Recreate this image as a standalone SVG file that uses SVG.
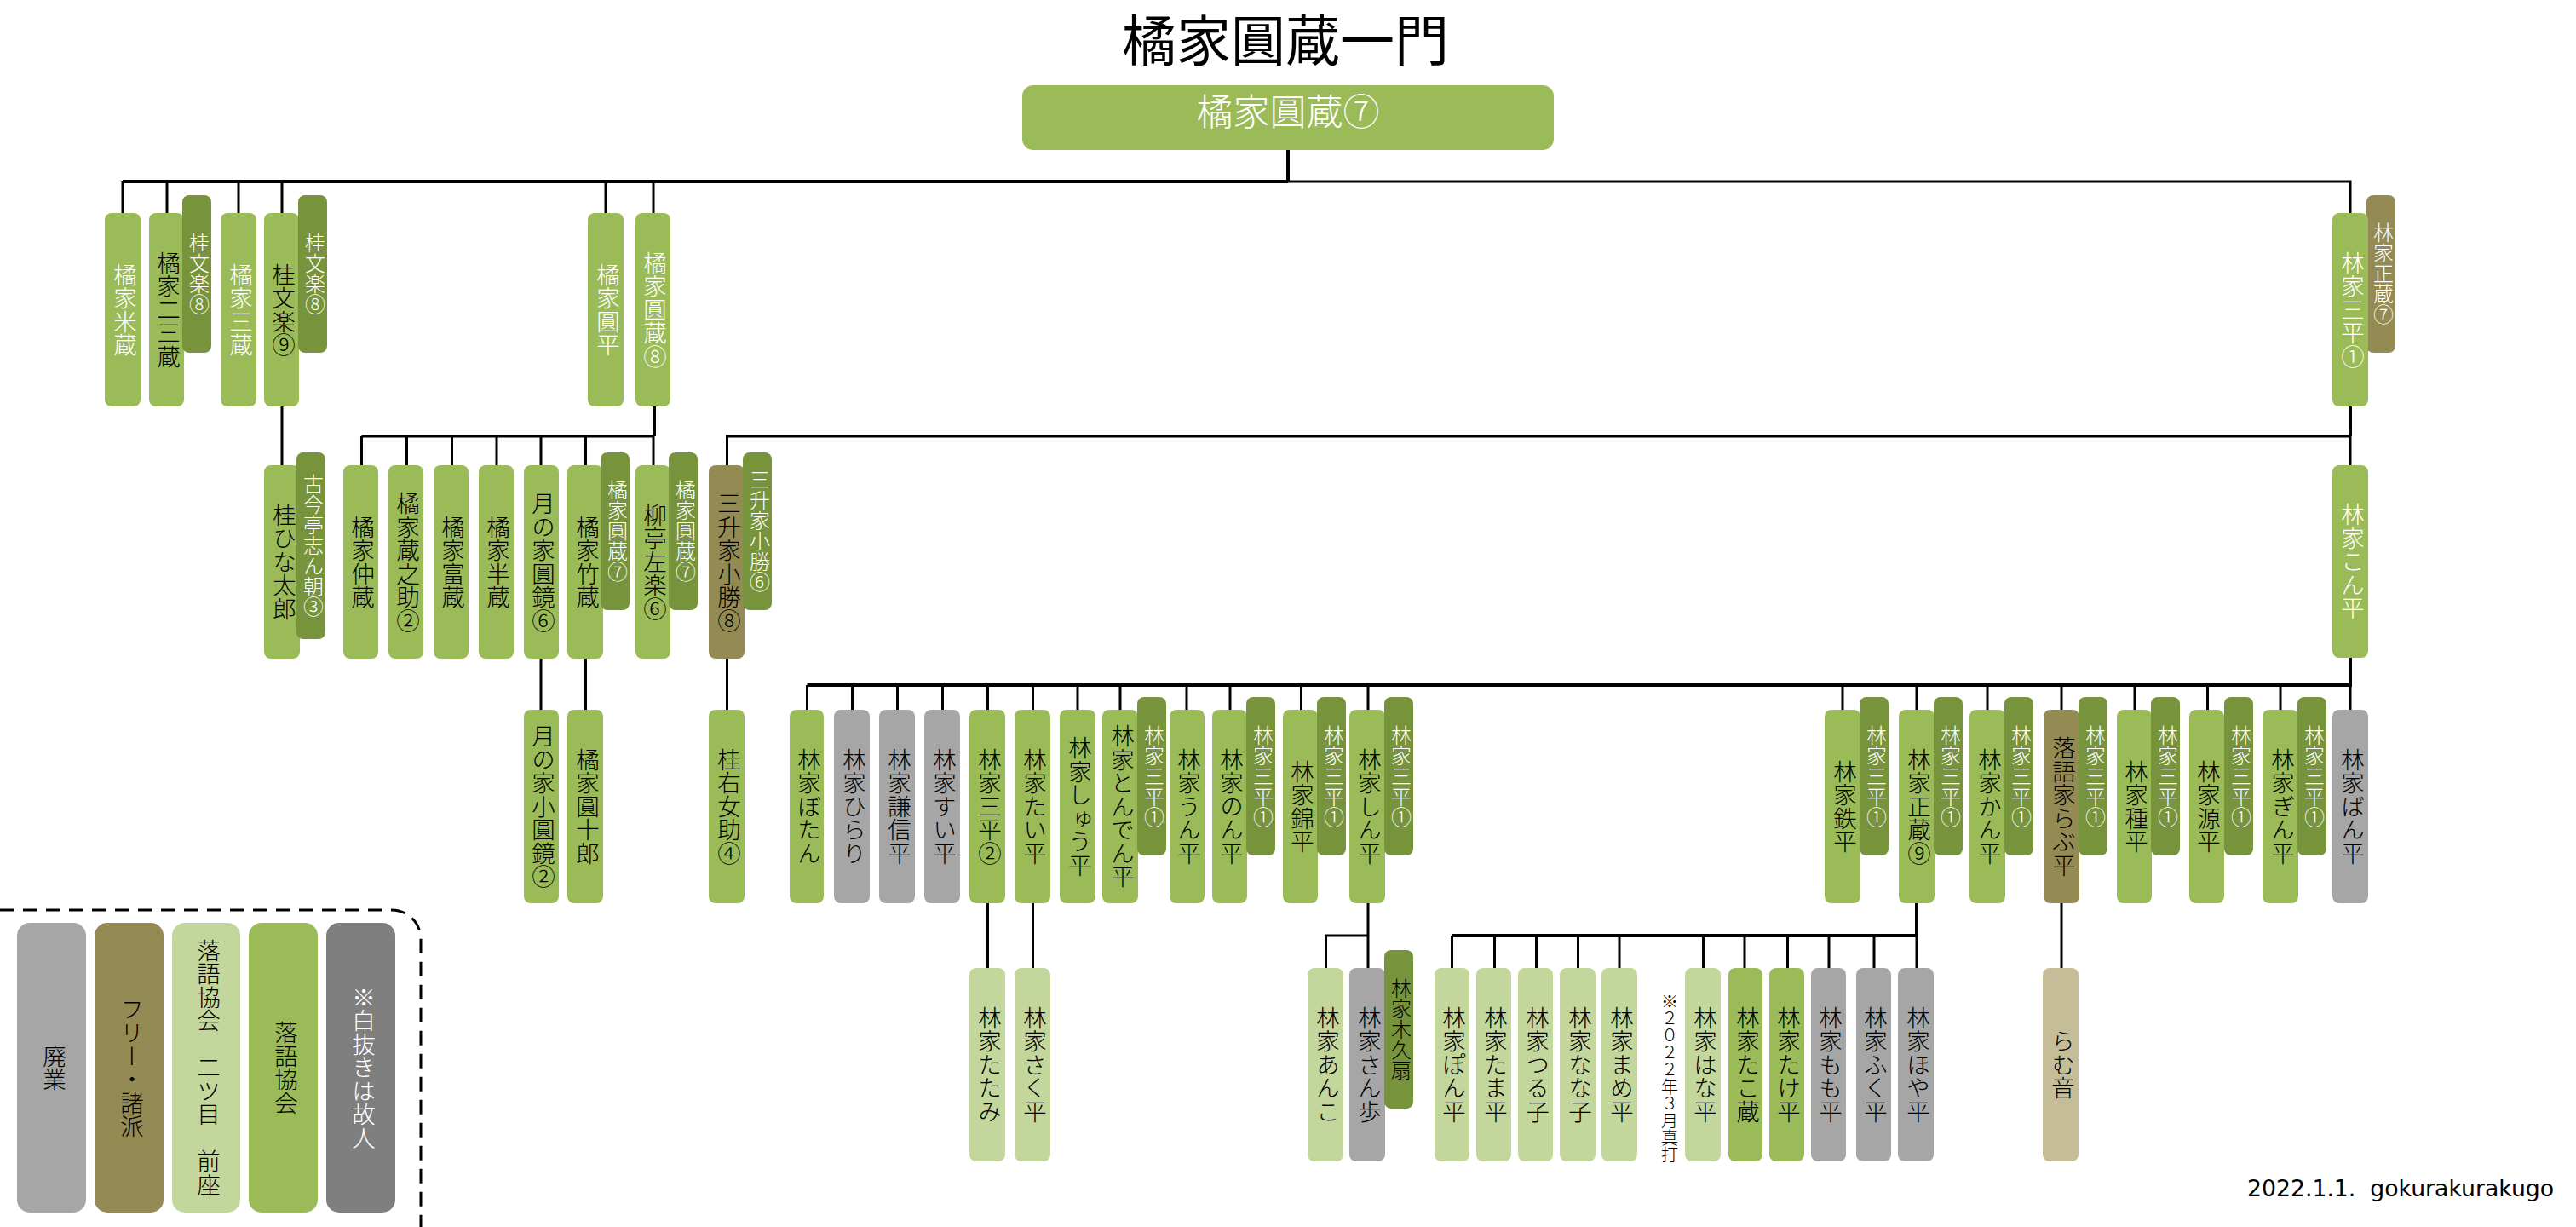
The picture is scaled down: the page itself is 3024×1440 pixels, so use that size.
<svg xmlns="http://www.w3.org/2000/svg" width="3024" height="1440" viewBox="0 0 3024 1440">
<style>
text{font-family:"Noto Sans CJK JP","Noto Sans",sans-serif;fill:#000;font-weight:300}
.v{writing-mode:vertical-rl;text-anchor:middle;font-size:27.500px}
.s{font-size:24px}
.w{fill:#fff}
.h{font-weight:400}
.g{fill:#9BBB59}.d{fill:#77933C}.o{fill:#948A54}.a{fill:#A6A6A6}.l{fill:#C3D69B}.t{fill:#C4BD97}.k{fill:#7F7F7F}
rect{rx:8px;ry:8px}
.leg{rx:15px;ry:15px}
.c{fill:none;stroke:#000;stroke-width:3}
.b{stroke-width:4}
</style>
<rect width="3024" height="1440" fill="#fff" style="rx:0;ry:0"/>
<text id="title" class="h" x="1509" y="71" text-anchor="middle" font-size="64">橘家圓蔵一門</text>
<g id="connectors">
<path class="c b" d="M144 213H1512M1512 176V213"/>
<path class="c" d="M1512 213H2759V251M144 213V250M196 213V250M280 213V250M331 213V250M711 213V250M767 213V250"/>
<path class="c" d="M331 477V546"/>
<path class="c b" d="M768 477V512"/>
<path class="c" d="M424.500 512H768M424.500 512V546M477.500 512V546M530.500 512V546M583 512V546M635 512V546M687.500 512V546M767 512V546"/>
<path class="c" d="M853.500 546V512H2759"/>
<path class="c" d="M635 773V833M687.500 773V833M853.500 773V833"/>
<path class="c b" d="M2759 477V512"/>
<path class="c" d="M2759 512V546"/>
<path class="c b" d="M2759 772V804M947.500 804H2761"/>
<path class="c" d="M947.500 804V833M1000.500 804V833M1053.500 804V833M1106.500 804V833M1159.500 804V833M1212.500 804V833M1265 804V833M1315 804V833M1393 804V833M1444 804V833M1527.500 804V833M1606 804V833M2163 804V833M2250 804V833M2333 804V833M2420 804V833M2506 804V833M2591.500 804V833M2677 804V833M2759 804V833"/>
<path class="c" d="M1159.500 1060V1136M1212.500 1060V1136M1606 1060V1136M1556.500 1136V1098H1606M2420 1060V1136"/>
<path class="c b" d="M2250 1060V1098H1704.500"/>
<path class="c" d="M1704.500 1098V1136M1754.500 1098V1136M1803.500 1098V1136M1852.500 1098V1136M1901 1098V1136M1999.500 1098V1136M2048 1098V1136M2098.500 1098V1136M2147 1098V1136M2200 1098V1136M2250 1098V1136"/>
</g>
<path id="legend-frame" class="c" stroke-dasharray="17 10" d="M0 1068H460A34 34 0 0 1 494 1102V1440"/>
<g id="root"><rect class="g" x="1200" y="100" width="624" height="76" style="rx:13px;ry:13px"/><text class="w" x="1512" y="147" text-anchor="middle" font-size="43">橘家圓蔵⑦</text></g>

<g id="n001"><rect class="g" x="123" y="250" width="42" height="227"/><text class="v w" x="147" y="363.500">橘家米蔵</text></g>
<g id="n002"><rect class="g" x="175" y="250" width="41" height="227"/><text class="v" x="198" y="363.500">橘家二三蔵</text></g>
<g id="n003"><rect class="d" x="214" y="229" width="34" height="185"/><text class="v s w" x="234" y="321">桂文楽⑧</text></g>
<g id="n004"><rect class="g" x="259" y="250" width="42" height="227"/><text class="v w" x="283" y="363.500">橘家三蔵</text></g>
<g id="n005"><rect class="g" x="310" y="250" width="41" height="227"/><text class="v" x="333" y="363.500">桂文楽⑨</text></g>
<g id="n006"><rect class="d" x="350" y="229" width="34" height="185"/><text class="v s w" x="370" y="321">桂文楽⑧</text></g>
<g id="n007"><rect class="g" x="690" y="250" width="42" height="227"/><text class="v w" x="714" y="363.500">橘家圓平</text></g>
<g id="n008"><rect class="g" x="746" y="250" width="41" height="227"/><text class="v w" x="769" y="363.500">橘家圓蔵⑧</text></g>
<g id="n009"><rect class="o" x="2778" y="229" width="34" height="185"/><text class="v s w" x="2798" y="321">林家正蔵⑦</text></g>
<g id="n010"><rect class="g" x="2738" y="250" width="42" height="227"/><text class="v w" x="2762" y="363.500">林家三平①</text></g>

<g id="n011"><rect class="g" x="310" y="546" width="42" height="227"/><text class="v" x="334" y="659.500">桂ひな太郎</text></g>
<g id="n012"><rect class="d" x="348" y="531" width="34" height="219"/><text class="v s w" x="368" y="640">古今亭志ん朝③</text></g>
<g id="n013"><rect class="g" x="403" y="546" width="41" height="227"/><text class="v" x="426" y="659.500">橘家仲蔵</text></g>
<g id="n014"><rect class="g" x="456" y="546" width="41" height="227"/><text class="v" x="479" y="659.500">橘家蔵之助②</text></g>
<g id="n015"><rect class="g" x="509" y="546" width="41" height="227"/><text class="v" x="532" y="659.500">橘家富蔵</text></g>
<g id="n016"><rect class="g" x="562" y="546" width="41" height="227"/><text class="v" x="585" y="659.500">橘家半蔵</text></g>
<g id="n017"><rect class="g" x="615" y="546" width="41" height="227"/><text class="v" x="638" y="659.500">月の家圓鏡⑥</text></g>
<g id="n018"><rect class="g" x="666" y="546" width="42" height="227"/><text class="v" x="690" y="659.500">橘家竹蔵</text></g>
<g id="n019"><rect class="d" x="705" y="531" width="34" height="185"/><text class="v s w" x="725" y="623">橘家圓蔵⑦</text></g>
<g id="n020"><rect class="g" x="746" y="546" width="41" height="227"/><text class="v" x="769" y="659.500">柳亭左楽⑥</text></g>
<g id="n021"><rect class="d" x="785" y="531" width="34" height="185"/><text class="v s w" x="805" y="623">橘家圓蔵⑦</text></g>
<g id="n022"><rect class="o" x="832" y="546" width="42" height="227"/><text class="v" x="856" y="659.500">三升家小勝⑧</text></g>
<g id="n023"><rect class="d" x="872" y="531" width="34" height="185"/><text class="v s w" x="892" y="623">三升家小勝⑥</text></g>
<g id="n024"><rect class="g" x="2738" y="546" width="42" height="226"/><text class="v w" x="2762" y="659">林家こん平</text></g>

<g id="n025"><rect class="g" x="615" y="833" width="41" height="227"/><text class="v" x="638" y="946.500">月の家小圓鏡②</text></g>
<g id="n026"><rect class="g" x="666" y="833" width="42" height="227"/><text class="v" x="690" y="946.500">橘家圓十郎</text></g>
<g id="n027"><rect class="g" x="832" y="833" width="42" height="227"/><text class="v" x="856" y="946.500">桂右女助④</text></g>
<g id="n028"><rect class="g" x="927" y="833" width="40" height="227"/><text class="v" x="950" y="946.500">林家ぼたん</text></g>
<g id="n029"><rect class="a" x="979" y="833" width="42" height="227"/><text class="v" x="1003" y="946.500">林家ひらり</text></g>
<g id="n030"><rect class="a" x="1032" y="833" width="42" height="227"/><text class="v" x="1056" y="946.500">林家謙信平</text></g>
<g id="n031"><rect class="a" x="1085" y="833" width="42" height="227"/><text class="v" x="1109" y="946.500">林家すい平</text></g>
<g id="n032"><rect class="g" x="1138" y="833" width="42" height="227"/><text class="v" x="1162" y="946.500">林家三平②</text></g>
<g id="n033"><rect class="g" x="1191" y="833" width="42" height="227"/><text class="v" x="1215" y="946.500">林家たい平</text></g>
<g id="n034"><rect class="g" x="1244" y="833" width="42" height="227"/><text class="v" x="1268" y="946.500">林家しゅう平</text></g>
<g id="n035"><rect class="g" x="1294" y="833" width="42" height="227"/><text class="v" x="1318" y="946.500">林家とんでん平</text></g>
<g id="n036"><rect class="d" x="1335" y="818" width="34" height="186"/><text class="v s w" x="1355" y="911">林家三平①</text></g>
<g id="n037"><rect class="g" x="1373" y="833" width="41" height="227"/><text class="v" x="1396" y="946.500">林家うん平</text></g>
<g id="n038"><rect class="g" x="1423" y="833" width="41" height="227"/><text class="v" x="1446" y="946.500">林家のん平</text></g>
<g id="n039"><rect class="d" x="1463" y="818" width="34" height="186"/><text class="v s w" x="1483" y="911">林家三平①</text></g>
<g id="n040"><rect class="g" x="1506" y="833" width="41" height="227"/><text class="v" x="1529" y="946.500">林家錦平</text></g>
<g id="n041"><rect class="d" x="1546" y="818" width="34" height="186"/><text class="v s w" x="1566" y="911">林家三平①</text></g>
<g id="n042"><rect class="g" x="1584" y="833" width="42" height="227"/><text class="v" x="1608" y="946.500">林家しん平</text></g>
<g id="n043"><rect class="d" x="1625" y="818" width="34" height="186"/><text class="v s w" x="1645" y="911">林家三平①</text></g>
<g id="n044"><rect class="g" x="2142" y="833" width="42" height="227"/><text class="v" x="2166" y="946.500">林家鉄平</text></g>
<g id="n045"><rect class="d" x="2183" y="818" width="34" height="186"/><text class="v s w" x="2203" y="911">林家三平①</text></g>
<g id="n046"><rect class="g" x="2229" y="833" width="42" height="227"/><text class="v" x="2253" y="946.500">林家正蔵⑨</text></g>
<g id="n047"><rect class="d" x="2270" y="818" width="34" height="186"/><text class="v s w" x="2290" y="911">林家三平①</text></g>
<g id="n048"><rect class="g" x="2312" y="833" width="42" height="227"/><text class="v" x="2336" y="946.500">林家かん平</text></g>
<g id="n049"><rect class="d" x="2353" y="818" width="34" height="186"/><text class="v s w" x="2373" y="911">林家三平①</text></g>
<g id="n050"><rect class="o" x="2399" y="833" width="42" height="227"/><text class="v" x="2423" y="946.500">落語家らぶ平</text></g>
<g id="n051"><rect class="d" x="2440" y="818" width="34" height="186"/><text class="v s w" x="2460" y="911">林家三平①</text></g>
<g id="n052"><rect class="g" x="2485" y="833" width="41" height="227"/><text class="v" x="2508" y="946.500">林家種平</text></g>
<g id="n053"><rect class="d" x="2525" y="818" width="34" height="186"/><text class="v s w" x="2545" y="911">林家三平①</text></g>
<g id="n054"><rect class="g" x="2570" y="833" width="41" height="227"/><text class="v" x="2593" y="946.500">林家源平</text></g>
<g id="n055"><rect class="d" x="2611" y="818" width="34" height="186"/><text class="v s w" x="2631" y="911">林家三平①</text></g>
<g id="n056"><rect class="g" x="2656" y="833" width="42" height="227"/><text class="v" x="2680" y="946.500">林家ぎん平</text></g>
<g id="n057"><rect class="d" x="2697" y="818" width="34" height="186"/><text class="v s w" x="2717" y="911">林家三平①</text></g>
<g id="n058"><rect class="a" x="2738" y="833" width="42" height="227"/><text class="v" x="2762" y="946.500">林家ばん平</text></g>

<g id="n059"><rect class="l" x="1138" y="1136" width="42" height="227"/><text class="v" x="1162" y="1249.500">林家たたみ</text></g>
<g id="n060"><rect class="l" x="1191" y="1136" width="42" height="227"/><text class="v" x="1215" y="1249.500">林家さく平</text></g>
<g id="n061"><rect class="l" x="1535" y="1136" width="42" height="227"/><text class="v" x="1559" y="1249.500">林家あんこ</text></g>
<g id="n062"><rect class="a" x="1584" y="1136" width="42" height="227"/><text class="v" x="1608" y="1249.500">林家さん歩</text></g>
<g id="n063"><rect class="d" x="1625" y="1115" width="34" height="186"/><text class="v s" x="1645" y="1208">林家木久扇</text></g>
<g id="n064"><rect class="l" x="1684" y="1136" width="41" height="227"/><text class="v" x="1707" y="1249.500">林家ぽん平</text></g>
<g id="n065"><rect class="l" x="1733" y="1136" width="41" height="227"/><text class="v" x="1756" y="1249.500">林家たま平</text></g>
<g id="n066"><rect class="l" x="1782" y="1136" width="41" height="227"/><text class="v" x="1805" y="1249.500">林家つる子</text></g>
<g id="n067"><rect class="l" x="1831" y="1136" width="42" height="227"/><text class="v" x="1855" y="1249.500">林家なな子</text></g>
<g id="n068"><rect class="l" x="1880" y="1136" width="42" height="227"/><text class="v" x="1904" y="1249.500">林家まめ平</text></g>
<text id="note" class="v" x="1960" y="1265" style="font-size:20px">※２０２２年３月真打</text>
<g id="n069"><rect class="l" x="1978" y="1136" width="42" height="227"/><text class="v" x="2002" y="1249.500">林家はな平</text></g>
<g id="n070"><rect class="g" x="2029" y="1136" width="40" height="227"/><text class="v" x="2052" y="1249.500">林家たこ蔵</text></g>
<g id="n071"><rect class="g" x="2077" y="1136" width="41" height="227"/><text class="v" x="2100" y="1249.500">林家たけ平</text></g>
<g id="n072"><rect class="a" x="2126" y="1136" width="41" height="227"/><text class="v" x="2149" y="1249.500">林家もも平</text></g>
<g id="n073"><rect class="a" x="2179" y="1136" width="41" height="227"/><text class="v" x="2202" y="1249.500">林家ふく平</text></g>
<g id="n074"><rect class="a" x="2228" y="1136" width="42" height="227"/><text class="v" x="2252" y="1249.500">林家ほや平</text></g>
<g id="n075"><rect class="t" x="2398" y="1136" width="42" height="227"/><text class="v" x="2422" y="1249.500">らむ音</text></g>

<g id="legend1"><rect class="a leg" x="20" y="1083" width="81" height="340"/><text class="v" x="64" y="1253">廃業</text></g>
<g id="legend2"><rect class="o leg" x="111" y="1083" width="81" height="340"/><text class="v" x="155" y="1253">フリー・諸派</text></g>
<g id="legend3"><rect class="l leg" x="202" y="1083" width="80" height="340"/><text class="v" x="245" y="1253">落語協会　二ツ目　前座</text></g>
<g id="legend4"><rect class="g leg" x="292" y="1083" width="81" height="340"/><text class="v" x="336" y="1253">落語協会</text></g>
<g id="legend5"><rect class="k leg" x="383" y="1083" width="81" height="340"/><text class="v w" x="427" y="1253">※白抜きは故人</text></g>
<text id="credit" class="h" x="2638" y="1404" font-size="26.700" style="font-family:'DejaVu Sans',sans-serif">2022.1.1.&#160; gokurakurakugo</text>
</svg>
